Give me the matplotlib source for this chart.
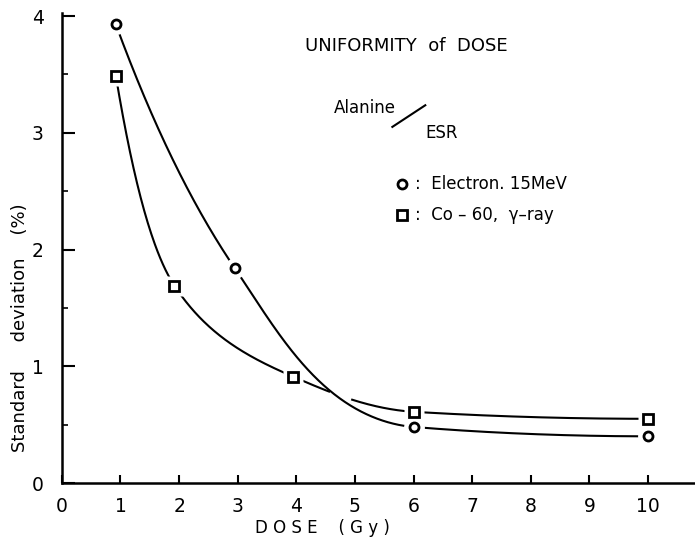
import numpy as np
import matplotlib
matplotlib.use("Agg")
import matplotlib.pyplot as plt

plt.rcParams['font.family'] = ['DejaVu Sans']

# values
dose_e = [0.92, 2.95, 6.0, 10.0]
sd_e = [3.93, 1.84, 0.48, 0.40]
dose_co = [0.92, 1.92, 3.95, 6.0, 10.0]
sd_co = [3.49, 1.69, 0.91, 0.61, 0.55]

xticks = [0, 1, 2, 3, 4, 5, 6, 7, 8, 9, 10]
yticks = [0, 1, 2, 3, 4]


def pchip(x, y, xs):
    # monotone cubic through the points, only used to draw the smooth line
    x = np.asarray(x, float)
    y = np.asarray(y, float)
    h = np.diff(x)
    d = np.diff(y) / h
    m = np.zeros_like(y)
    for k in range(1, len(x) - 1):
        if d[k - 1] * d[k] > 0:
            w1 = 2 * h[k] + h[k - 1]
            w2 = h[k] + 2 * h[k - 1]
            m[k] = (w1 + w2) / (w1 / d[k - 1] + w2 / d[k])
    m[0] = ((2 * h[0] + h[1]) * d[0] - h[0] * d[1]) / (h[0] + h[1])
    if np.sign(m[0]) != np.sign(d[0]):
        m[0] = 0
    m[-1] = ((2 * h[-1] + h[-2]) * d[-1] - h[-1] * d[-2]) / (h[-1] + h[-2])
    if np.sign(m[-1]) != np.sign(d[-1]):
        m[-1] = 0
    idx = np.clip(np.searchsorted(x, xs) - 1, 0, len(x) - 2)
    t = (xs - x[idx]) / h[idx]
    h00 = 2 * t**3 - 3 * t**2 + 1
    h10 = t**3 - 2 * t**2 + t
    h01 = -2 * t**3 + 3 * t**2
    h11 = t**3 - t**2
    return h00 * y[idx] + h10 * h[idx] * m[idx] + h01 * y[idx + 1] + h11 * h[idx] * m[idx + 1]


fig = plt.figure(figsize=(6.95, 5.47), dpi=100)
ax = fig.add_axes([0.089, 0.117, 0.911, 0.86])

xs_e = np.linspace(dose_e[0], dose_e[-1], 600)
ys_e = np.exp(pchip(dose_e, np.log(sd_e), xs_e))
xs_c = np.linspace(dose_co[0], dose_co[-1], 600)
ys_c = np.exp(pchip(dose_co, np.log(sd_co), xs_c))
# hand-drawn break where the electron curve crosses over
ys_c = np.where((xs_c > 4.57) & (xs_c < 4.95), np.nan, ys_c)

ax.plot(xs_c, ys_c, color='black', lw=1.5, zorder=2)
ax.plot(xs_e, ys_e, color='black', lw=1.5, zorder=2)

# white halo so the lines stop short of the markers
ax.plot(dose_e, sd_e, 'o', ms=15, color='white', mec='none', zorder=3, clip_on=False)
ax.plot(dose_co, sd_co, 's', ms=15, color='white', mec='none', zorder=3, clip_on=False)
ax.plot(dose_e, sd_e, 'o', ms=6.5, mfc='white', mec='black', mew=2, zorder=4, clip_on=False)
ax.plot(dose_co, sd_co, 's', ms=6.5, mfc='white', mec='black', mew=2, zorder=4, clip_on=False)

ax.set_xlim(0, 10.8)
ax.set_ylim(0, 4.03)
ax.spines['top'].set_visible(False)
ax.spines['right'].set_visible(False)
ax.spines['left'].set_linewidth(1.8)
ax.spines['bottom'].set_linewidth(1.8)

ax.set_xticks(xticks)
ax.set_yticks(yticks)
ax.set_yticks([0.5, 1.5, 2.5, 3.5], minor=True)
ax.tick_params(axis='both', which='major', direction='in', width=1.5, labelsize=13.5)
ax.tick_params(axis='x', which='major', length=6, pad=10)
ax.tick_params(axis='y', which='major', length=9, pad=13)
ax.tick_params(axis='y', which='minor', direction='in', length=4, width=1.2)

ax.text(-0.066, 0.33, 'Standard     deviation    (%)', transform=ax.transAxes,
        rotation=90, ha='center', va='center', fontsize=13)
ax.text(0.411, -0.095, 'D O S E    ( G y )', transform=ax.transAxes,
        ha='center', va='center', fontsize=12)

ax.text(0.384, 0.93, 'UNIFORMITY  of  DOSE', transform=ax.transAxes,
        ha='left', va='center', fontsize=13)
ax.text(0.43, 0.797, 'Alanine', transform=ax.transAxes,
        ha='left', va='center', fontsize=12)
ax.plot([0.522, 0.574], [0.757, 0.803], transform=ax.transAxes, color='black', lw=1.5)
ax.text(0.574, 0.745, 'ESR', transform=ax.transAxes,
        ha='left', va='center', fontsize=12)

ax.plot([0.537], [0.636], 'o', ms=6.5, mfc='white', mec='black', mew=2,
        transform=ax.transAxes, clip_on=False)
ax.text(0.557, 0.636, ':  Electron. 15MeV', transform=ax.transAxes,
        ha='left', va='center', fontsize=12)
ax.plot([0.537], [0.569], 's', ms=6.5, mfc='white', mec='black', mew=2,
        transform=ax.transAxes, clip_on=False)
ax.text(0.557, 0.569, ':  Co \u2013 60,  \u03b3\u2013ray', transform=ax.transAxes,
        ha='left', va='center', fontsize=12)

fig.savefig('out.png', dpi=100)
